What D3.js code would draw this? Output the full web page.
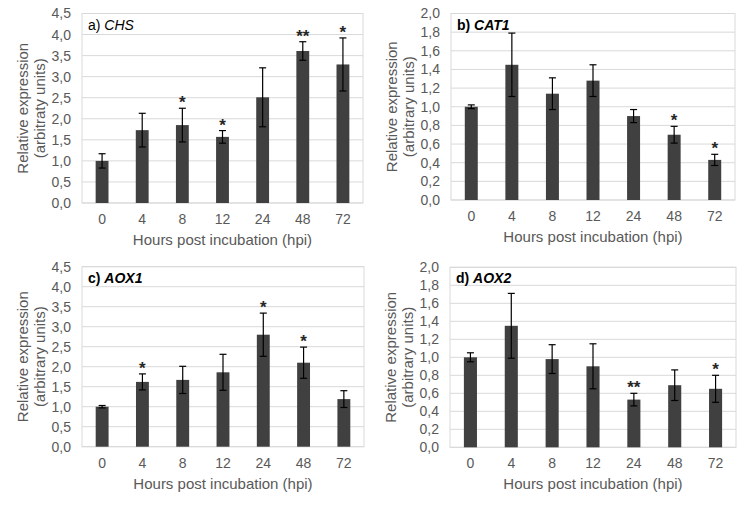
<!DOCTYPE html>
<html>
<head>
<meta charset="utf-8">
<script src="https://cdn.jsdelivr.net/npm/d3@7"></script>
<style>
  body { margin: 0; background: #fff; }
  svg { font-family: "Liberation Sans", Arial, sans-serif; }
</style>
</head>
<body>
<svg width="749" height="506"></svg>
<script>
// hours post incubation
const hours = ["0", "4", "8", "12", "24", "48", "72"];

// a) CHS
const chsMean = [1.0, 1.73, 1.85, 1.57, 2.51, 3.61, 3.29];
const chsErr  = [0.17, 0.40, 0.40, 0.15, 0.70, 0.22, 0.63];
const chsSig  = ["", "", "*", "*", "", "**", "*"];

// b) CAT1
const cat1Mean = [1.0, 1.45, 1.14, 1.28, 0.90, 0.70, 0.43];
const cat1Err  = [0.02, 0.34, 0.17, 0.17, 0.07, 0.09, 0.06];
const cat1Sig  = ["", "", "", "", "", "*", "*"];

// c) AOX1
const aox1Mean = [1.0, 1.62, 1.67, 1.86, 2.80, 2.10, 1.19];
const aox1Err  = [0.03, 0.20, 0.34, 0.45, 0.54, 0.39, 0.21];
const aox1Sig  = ["", "*", "", "", "*", "*", ""];

// d) AOX2
const aox2Mean = [1.0, 1.35, 0.98, 0.90, 0.53, 0.69, 0.65];
const aox2Err  = [0.05, 0.36, 0.16, 0.25, 0.07, 0.17, 0.15];
const aox2Sig  = ["", "", "", "", "**", "", "*"];

// y tick values
const ticksBig   = [0, 0.5, 1, 1.5, 2, 2.5, 3, 3.5, 4, 4.5];
const ticksSmall = [0, 0.2, 0.4, 0.6, 0.8, 1, 1.2, 1.4, 1.6, 1.8, 2];

const panels = [
  {tag: "a)", gene: "CHS",  mean: chsMean,  err: chsErr,  sig: chsSig,  ticks: ticksBig,   bold: false,
   ylab2: "(arbitraty units)", x0: 82,  x1: 363, y0: 13.5,  y1: 203},
  {tag: "b)", gene: "CAT1", mean: cat1Mean, err: cat1Err, sig: cat1Sig, ticks: ticksSmall, bold: true,
   ylab2: "(arbitrary units)", x0: 451, x1: 735, y0: 13.5,  y1: 200},
  {tag: "c)", gene: "AOX1", mean: aox1Mean, err: aox1Err, sig: aox1Sig, ticks: ticksBig,   bold: true,
   ylab2: "(arbitrary units)", x0: 82,  x1: 364, y0: 266.7, y1: 446.7},
  {tag: "d)", gene: "AOX2", mean: aox2Mean, err: aox2Err, sig: aox2Sig, ticks: ticksSmall, bold: true,
   ylab2: "(arbitrary units)", x0: 450, x1: 736, y0: 267.3, y1: 447.3}
];

const svg = d3.select("svg");
const textCol = "#595959";
const fmt = v => d3.format(".1f")(v).replace(".", ",");

panels.forEach(p => {
  const g = svg.append("g");
  const x = d3.scaleBand().domain(hours).range([p.x0, p.x1]).paddingInner(0.68).paddingOuter(0.34);
  const y = d3.scaleLinear().domain([0, d3.max(p.ticks)]).range([p.y1, p.y0]);

  // gridlines
  g.selectAll(".grid").data(p.ticks).join("line")
    .attr("x1", p.x0).attr("x2", p.x1)
    .attr("y1", d => y(d)).attr("y2", d => y(d))
    .attr("stroke", "#d9d9d9").attr("stroke-width", 1);

  // plot frame
  g.append("rect")
    .attr("x", p.x0).attr("y", p.y0)
    .attr("width", p.x1 - p.x0).attr("height", p.y1 - p.y0)
    .attr("fill", "none").attr("stroke", "#d9d9d9");

  // y axis labels
  const yAxis = d3.axisLeft(y).tickValues(p.ticks).tickFormat(fmt).tickSize(0).tickPadding(11);
  const ya = g.append("g").attr("transform", `translate(${p.x0},0)`).call(yAxis);
  ya.select(".domain").remove();
  ya.selectAll("text").attr("fill", textCol).style("font-size", "14px").style("font-family", "Liberation Sans, Arial");

  // x axis labels
  const xAxis = d3.axisBottom(x).tickSize(0).tickPadding(11);
  const xa = g.append("g").attr("transform", `translate(0,${p.y1})`).call(xAxis);
  xa.select(".domain").remove();
  xa.selectAll("text").attr("fill", textCol).style("font-size", "14px").style("font-family", "Liberation Sans, Arial");

  // bars
  g.selectAll(".bar").data(p.mean).join("rect")
    .attr("x", (d, i) => x(hours[i]))
    .attr("y", d => y(d))
    .attr("width", x.bandwidth())
    .attr("height", d => y(0) - y(d))
    .attr("fill", "#404040");

  // error bars
  const cx = i => x(hours[i]) + x.bandwidth() / 2;
  const eb = g.selectAll(".err").data(p.mean).join("g");
  eb.append("line")
    .attr("x1", (d, i) => cx(i)).attr("x2", (d, i) => cx(i))
    .attr("y1", (d, i) => y(d + p.err[i])).attr("y2", (d, i) => y(d - p.err[i]))
    .attr("stroke", "#000").attr("stroke-width", 1.2);
  [1, -1].forEach(s => {
    eb.append("line")
      .attr("x1", (d, i) => cx(i) - 3.5).attr("x2", (d, i) => cx(i) + 3.5)
      .attr("y1", (d, i) => y(d + s * p.err[i])).attr("y2", (d, i) => y(d + s * p.err[i]))
      .attr("stroke", "#000").attr("stroke-width", 1.2);
  });

  // significance stars
  g.selectAll(".sig").data(p.sig).join("text")
    .attr("x", (d, i) => cx(i))
    .attr("y", (d, i) => y(p.mean[i] + p.err[i]))
    .attr("text-anchor", "middle")
    .style("font-size", "17px").style("font-weight", "bold")
    .attr("fill", "#262626")
    .text(d => d);

  // panel label
  const t = g.append("text")
    .attr("x", p.x0 + 6).attr("y", p.y0 + 16)
    .style("font-size", "14px").style("font-weight", p.bold ? "bold" : "normal")
    .attr("fill", "#000");
  t.append("tspan").text(p.tag + " ");
  t.append("tspan").style("font-style", "italic").text(p.gene);

  // axis titles
  const ym = (p.y0 + p.y1) / 2;
  g.append("text")
    .attr("transform", `translate(${p.x0 - 54},${ym}) rotate(-90)`)
    .attr("text-anchor", "middle").style("font-size", "15px").attr("fill", textCol)
    .text("Relative expression");
  g.append("text")
    .attr("transform", `translate(${p.x0 - 37},${ym}) rotate(-90)`)
    .attr("text-anchor", "middle").style("font-size", "15px").attr("fill", textCol)
    .text(p.ylab2);
  g.append("text")
    .attr("x", (p.x0 + p.x1) / 2).attr("y", p.y1 + 42)
    .attr("text-anchor", "middle").style("font-size", "15px").attr("fill", textCol)
    .text("Hours post incubation (hpi)");
});
</script>
</body>
</html>
